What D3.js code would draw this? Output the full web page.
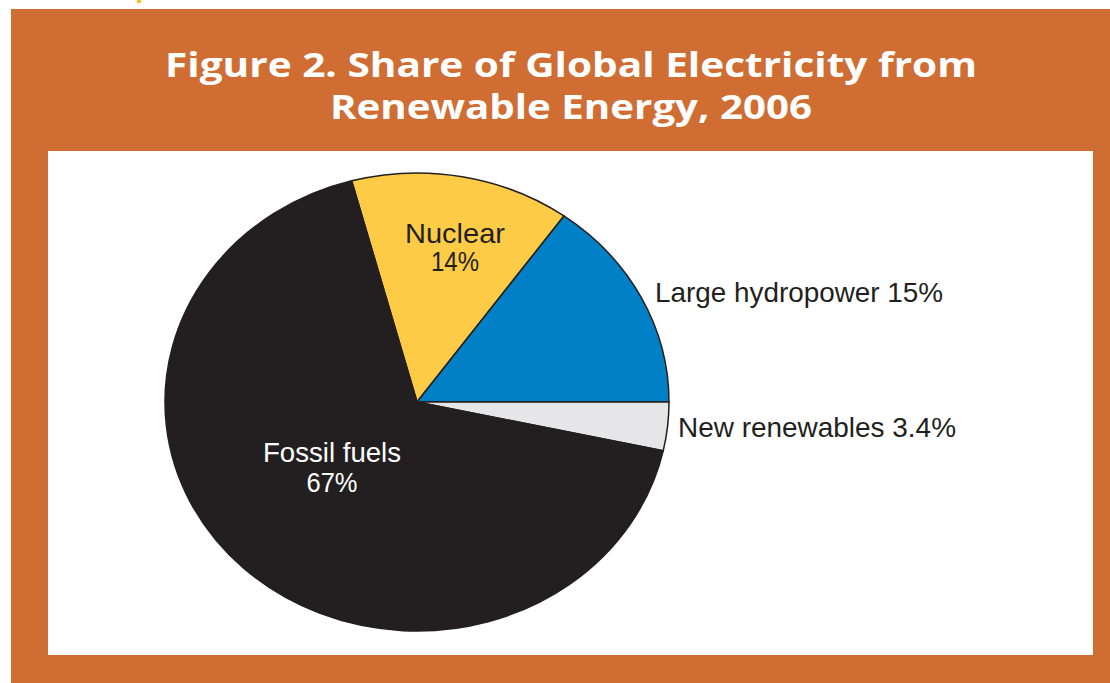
<!DOCTYPE html>
<html>
<head>
<meta charset="utf-8">
<script src="https://cdn.jsdelivr.net/npm/d3@7"></script>
<style>
  html, body { margin: 0; padding: 0; background: #fff; }
  svg { display: block; }
</style>
</head>
<body>
<div id="chart"></div>
<script>
// data (shares of global electricity, %)
const categories = ["Nuclear", "Large hydropower", "New renewables", "Fossil fuels"];
const shares = [14, 15, 3.4, 67];
const shareLabels = ["14%", "15%", "3.4%", "67%"];
const titleLines = ["Figure 2. Share of Global Electricity from", "Renewable Energy, 2006"];

const width = 1110, height = 683;
const colors = { "Nuclear": "#fdcb45", "Large hydropower": "#0080c6", "New renewables": "#e6e6e8", "Fossil fuels": "#231f20" };

// where each label sits (text layout, not data)
const labelLayout = {
  "Nuclear":          { x: 455, y: 243, anchor: "middle", inside: true, dy: 28, len: [100, 48] },
  "Large hydropower": { x: 655, y: 302, anchor: "start", inside: false, len: [288] },
  "New renewables":   { x: 678, y: 437, anchor: "start", inside: false, len: [278] },
  "Fossil fuels":     { x: 332, y: 462, anchor: "middle", inside: true, dy: 30, len: [138, 51] }
};

const svg = d3.select("#chart").append("svg").attr("width", width).attr("height", height);

// orange frame + white panel
svg.append("rect").attr("x", 11).attr("y", 9).attr("width", width - 11).attr("height", height - 9).attr("fill", "#d06d33");
svg.append("rect").attr("x", 48).attr("y", 151).attr("width", 1045).attr("height", 504).attr("fill", "#fff");
svg.append("rect").attr("x", 137).attr("y", 0).attr("width", 4).attr("height", 3).attr("fill", "#f7c418");

// title
const titleW = [812, 482];
svg.selectAll("text.title")
  .data(titleLines)
  .join("text")
  .attr("class", "title")
  .attr("x", 571)
  .attr("y", (d, i) => 77 + i * 42)
  .attr("text-anchor", "middle")
  .attr("font-family", "'Open Sans', 'Noto Sans', sans-serif")
  .attr("font-weight", "bold")
  .attr("font-size", 34)
  .attr("fill", "#fff")
  .attr("textLength", (d, i) => titleW[i])
  .attr("lengthAdjust", "spacingAndGlyphs")
  .text(d => d);

// pie, drawn as a circle then stretched into the ellipse of the original
const cx = 417, cy = 402, rx = 252, ry = 229;
const total = d3.sum(shares);
const start = Math.PI / 2 - 2 * Math.PI * (shares[0] + shares[1]) / total;
const pie = d3.pie().sort(null).value(d => d.value).startAngle(start).endAngle(start + 2 * Math.PI);
const arc = d3.arc().innerRadius(0).outerRadius(ry);
const slices = pie(categories.map((c, i) => ({ name: c, value: shares[i] })));

const g = svg.append("g").attr("transform", `translate(${cx},${cy}) scale(${rx / ry},1)`);
g.selectAll("path")
  .data(slices)
  .join("path")
  .attr("d", arc)
  .attr("fill", d => colors[d.data.name])
  .attr("stroke", "#231f20")
  .attr("stroke-width", 1.5)
  .attr("vector-effect", "non-scaling-stroke");

// labels
categories.forEach((c, i) => {
  const L = labelLayout[c];
  const fill = c === "Fossil fuels" ? "#fff" : "#231f20";
  const lines = L.inside ? [c, shareLabels[i]] : [c + " " + shareLabels[i]];
  svg.append("g").selectAll("text")
    .data(lines)
    .join("text")
    .attr("x", L.x)
    .attr("y", (d, j) => L.y + j * (L.dy || 0))
    .attr("text-anchor", L.anchor)
    .attr("font-family", "'Liberation Sans', Arial, sans-serif")
    .attr("font-size", 28)
    .attr("fill", fill)
    .attr("textLength", (d, j) => L.len[j])
    .attr("lengthAdjust", "spacingAndGlyphs")
    .text(d => d);
});
</script>
</body>
</html>
